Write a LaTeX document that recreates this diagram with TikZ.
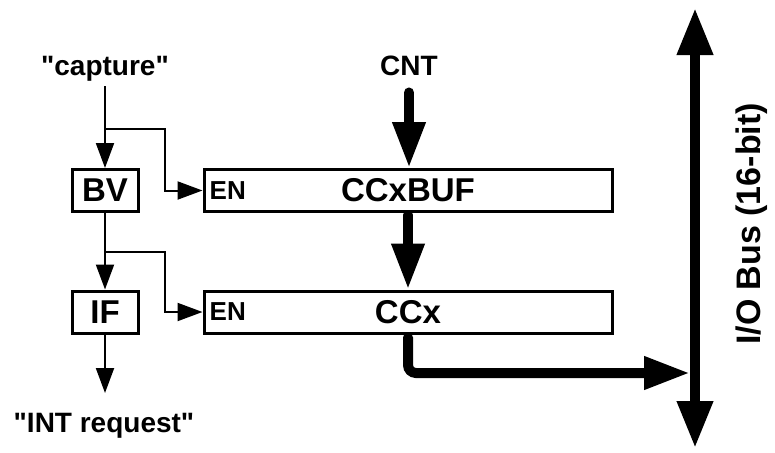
\documentclass[tikz,border=0pt]{standalone}
\usepackage{fontspec}
\setmainfont{Liberation Sans}
\usetikzlibrary{arrows.meta,positioning}

\begin{document}
\begin{tikzpicture}[x=1pt,y=-1pt,
    reg/.style={draw, line width=3pt, minimum height=42pt, inner sep=0pt, font=\fontsize{33}{35}\selectfont\bfseries},
    flag/.style={reg, minimum width=66pt},
    buf/.style={reg, minimum width=408pt},
    lbl/.style={font=\fontsize{28}{30}\selectfont\bfseries, inner sep=5pt},
    entxt/.style={font=\fontsize{26}{28}\selectfont\bfseries, inner sep=7pt, anchor=west},
    sig/.style={-{Triangle[length=25pt,width=18pt]}, line width=2pt},
    bigarrow/.style={-{Triangle[length=46pt,width=31pt]}, line width=10pt, line cap=round},
    bus/.style={{Triangle[length=47pt,width=34pt]}-{Triangle[length=47pt,width=34pt]}, line width=10pt}
]
\useasboundingbox (0,0) rectangle (775,452);

% Flags
\node[flag] (BV) at (105,190.5) {BV};
\node[flag] (IF) at (105,312) {IF};

% Registers
\node[buf] (BUF) at (408,190.5) {CCxBUF};
\node[buf] (CC) at (408,312) {CCx};
\node[entxt] (en1) at (BUF.west) {EN};
\node[entxt] (en2) at (CC.west) {EN};

% Labels
\node[lbl, anchor=base] (cap) at (105,75) {\textquotedbl capture\textquotedbl};
\node[lbl, anchor=base] (cnt) at (409,75) {CNT};
\node[lbl, anchor=base] (int) at (104,432) {\textquotedbl INT request\textquotedbl};
\node[font=\fontsize{34}{36}\selectfont\bfseries, rotate=90] (buslbl) at (752,224) {I/O Bus (16-bit)};

% Junctions and free ends
\coordinate (j1) at (105,129);
\coordinate (j2) at (105,252);
\coordinate (intout) at (105,393);
\coordinate (bustop) at (695,8);
\coordinate (busbot) at (695,448);
\coordinate (tap) at (690,373);

% Control signals
\draw[sig] (cap.south) -- (BV.north);
\draw[sig] (j1) -- ++(60,0) |- (BUF.west);
\draw[sig] (BV.south) -- (IF.north);
\draw[sig] (j2) -- ++(60,0) |- (CC.west);
\draw[sig] (IF.south) -- (intout);

% Data path
\draw[bigarrow, shorten <=12pt] (cnt.south) -- (cnt.south |- BUF.north);
\draw[bigarrow, shorten <=2pt] (BUF.south) -- (CC.north);
\draw[bigarrow, shorten <=3pt, rounded corners=8pt] (CC.south) |- (tap);
\draw[bus] (bustop) -- (busbot);

\end{tikzpicture}
\end{document}
